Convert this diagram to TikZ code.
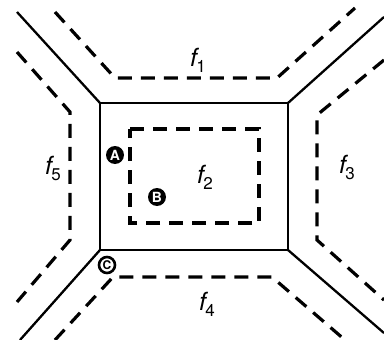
\documentclass[tikz,border=0pt]{standalone}
\usepackage{fontspec}
\setmainfont{TeX Gyre Heros}
\newcommand{\facelbl}[1]{{\fontsize{25}{27}\selectfont\itshape f}\kern-0.5pt\raisebox{-6pt}{\fontsize{17}{18}\selectfont #1}}
\begin{document}
\begin{tikzpicture}[x=1pt,y=-1pt,
  edge/.style={line width=2.3pt,line join=miter},
  face/.style={line width=3.2pt,dash pattern=on 14pt off 9pt,line join=miter},
  blk/.style={circle,fill=black,text=white,inner sep=0pt,minimum size=18pt,font=\fontsize{14}{14}\selectfont\bfseries},
  ring/.style={circle,draw=black,line width=2.6pt,fill=white,text=black,inner sep=0pt,minimum size=16pt,font=\fontsize{12}{12}\selectfont\bfseries},
  lbl/.style={inner sep=0pt}]
\useasboundingbox (0,0) rectangle (384,340);
% solid edges
\draw[edge] (100,103) rectangle (288,250);
\draw[edge] (100,103) -- (17,12);
\draw[edge] (288,103) -- (384,17);
\draw[edge] (100,250) -- (20,340);
\draw[edge] (288,250) -- (384,333);
% dashed faces
\draw[face] (55,12) -- (115,78) -- (277,78) -- (355,8);
\draw[face] (17,52) -- (70,112) -- (70,240) -- (17,302);
\draw[face] (384,60) -- (317,115) -- (317,240) -- (384,300);
\draw[face] (55,340) -- (113,277) -- (272,277) -- (345,340);
\draw[face] (130,129) -- (259,129) -- (259,223) -- (130,223) -- cycle;
% labels
\node[lbl] (f1) at (198,60) {\facelbl{1}};
\node[lbl] (f2) at (205,177) {\facelbl{2}};
\node[lbl] (f3) at (347,167) {\facelbl{3}};
\node[lbl] (f4) at (207,304) {\facelbl{4}};
\node[lbl] (f5) at (53,168) {\facelbl{5}};
% points
\node[blk] (A) at (115,155) {A};
\node[blk] (B) at (157,197) {B};
\node[ring] (C) at (107,265) {C};
\end{tikzpicture}
\end{document}
